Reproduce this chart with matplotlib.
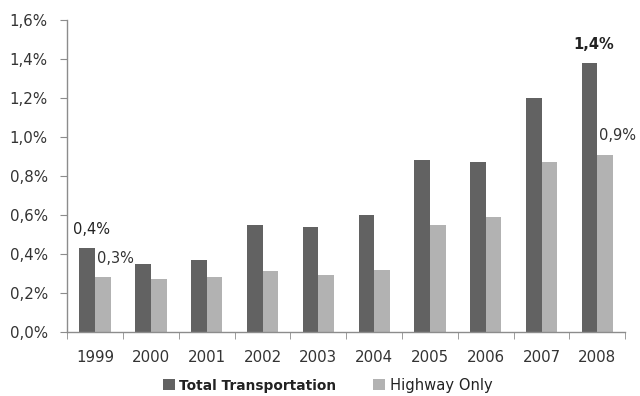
import matplotlib
matplotlib.use('Agg')
import matplotlib.pyplot as plt
import numpy as np

# share of spending, by year
years = ['1999', '2000', '2001', '2002', '2003', '2004', '2005', '2006', '2007', '2008']
total_transport = [0.43, 0.35, 0.37, 0.55, 0.54, 0.60, 0.88, 0.87, 1.20, 1.38]
highway_only = [0.28, 0.27, 0.28, 0.31, 0.29, 0.32, 0.55, 0.59, 0.87, 0.91]

# value labels shown only on first and last year
labels_total = {0: '0,4%', 9: '1,4%'}
labels_highway = {0: '0,3%', 9: '0,9%'}

dark = '#626262'
light = '#b2b2b2'
axis_grey = '#8c8c8c'
text_col = '#333333'

plt.rcParams['font.family'] = ['DejaVu Sans']

fig = plt.figure(figsize=(6.4, 3.96), dpi=100)
ax = fig.add_axes([0.105, 0.162, 0.872, 0.787])

x = np.arange(len(years))
w = 0.28
b1 = ax.bar(x - w / 2, total_transport, w, color=dark, label='Total Transportation')
b2 = ax.bar(x + w / 2, highway_only, w, color=light, label='Highway Only')

for i, txt in labels_total.items():
    ax.annotate(txt, (x[i] - w / 2, total_transport[i]), xytext=(3, 8),
                textcoords='offset points', ha='center', va='bottom',
                fontsize=10.5, color='#222222',
                fontweight='bold' if i == 9 else 'normal')
for i, txt in labels_highway.items():
    ax.annotate(txt, (x[i] + w / 2, highway_only[i]), xytext=(9, 8),
                textcoords='offset points', ha='center', va='bottom',
                fontsize=10.5, color=text_col)

ax.set_xlim(-0.5, len(years) - 0.5)
ax.set_ylim(0, 1.6)
yt = np.arange(0, 1.61, 0.2)
ax.set_yticks(yt)
ax.set_yticklabels([('%.1f%%' % v).replace('.', ',') for v in yt])

ax.set_xticks(x)
ax.set_xticklabels(years)
ax.set_xticks(np.arange(-0.5, len(years)), minor=True)
ax.tick_params(axis='x', which='major', length=0, pad=13, labelsize=10.8, colors=text_col)
ax.tick_params(axis='x', which='minor', length=5, direction='out', color=axis_grey)
ax.tick_params(axis='y', length=5, direction='out', color=axis_grey, labelsize=10.8,
               labelcolor=text_col, pad=9)

for s in ['top', 'right']:
    ax.spines[s].set_visible(False)
for s in ['left', 'bottom']:
    ax.spines[s].set_color(axis_grey)
    ax.spines[s].set_linewidth(1)

leg = ax.legend(loc='center', bbox_to_anchor=(0.467, -0.172), ncol=2,
                frameon=False, fontsize=10.6, handlelength=0.8, handleheight=0.8,
                handletextpad=0.3, columnspacing=2.5, borderpad=0.1)
leg.get_texts()[0].set_fontweight('bold')
leg.get_texts()[0].set_fontsize(9.9)
for t in leg.get_texts():
    t.set_color('#222222')

fig.savefig('out.png', dpi=100)
